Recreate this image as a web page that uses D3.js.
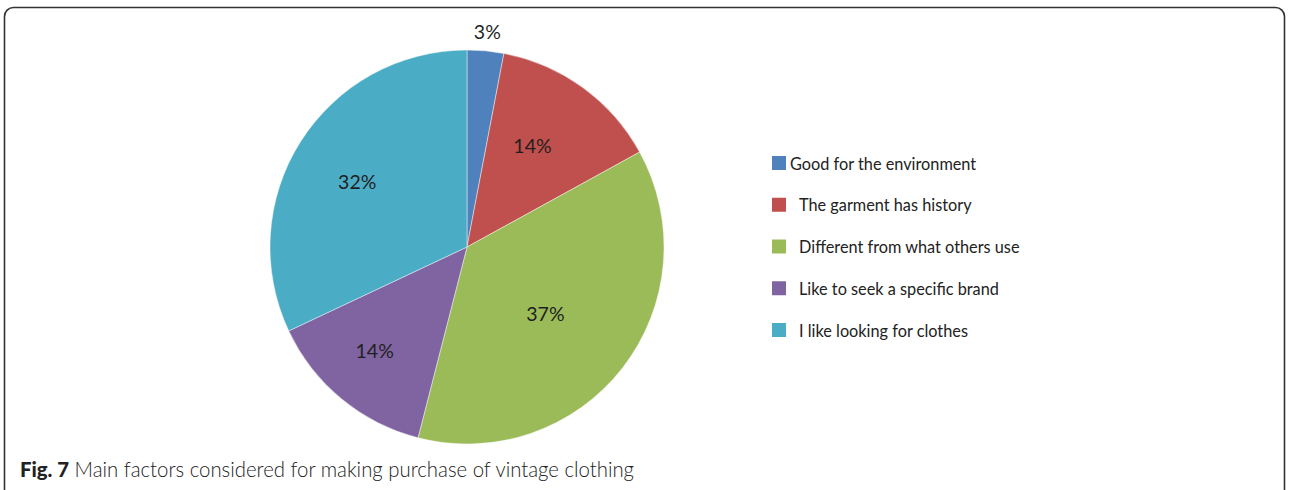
<!DOCTYPE html>
<html>
<head>
<meta charset="utf-8">
<script src="https://cdn.jsdelivr.net/npm/d3@7"></script>
<style>
  html, body { margin: 0; padding: 0; background: #fff; }
  svg { display: block; }
</style>
</head>
<body>
<svg id="chart" width="1290" height="490"></svg>
<script>
// Survey answers: main factors for buying vintage clothing (percent of respondents)
const categories = [
  "Good for the environment",
  "The garment has history",
  "Different from what others use",
  "Like to seek a specific brand",
  "I like looking for clothes"
];
const values = [3, 14, 37, 14, 32];
const valueLabels = ["3%", "14%", "37%", "14%", "32%"];
const colors = ["#4F81BD", "#C0504D", "#9BBB59", "#8064A2", "#4BACC6"];

// Best-fit label offsets from each slice's centroid (the first label sits outside)
const labelNudge = [[0, 0], [-4, -6], [-15, -6], [-17, 12], [-10, -2]];

const svg = d3.select("#chart");

// Figure frame, open at the bottom
svg.append("rect")
  .attr("x", 4.5).attr("y", 7.5)
  .attr("width", 1280).attr("height", 520)
  .attr("rx", 9).attr("ry", 9)
  .attr("fill", "none")
  .attr("stroke", "#333")
  .attr("stroke-width", 1.6);

const cx = 467, cy = 247, r = 197;

const pie = d3.pie().sort(null).value(d => d);
const arcs = pie(values);
const arc = d3.arc().innerRadius(0).outerRadius(r);
const labelArc = d3.arc().innerRadius(r * 0.6).outerRadius(r * 0.6);
const outerArc = d3.arc().innerRadius(r + 19).outerRadius(r + 19);

const g = svg.append("g").attr("transform", `translate(${cx},${cy})`);

g.selectAll("path.slice")
  .data(arcs)
  .join("path")
  .attr("class", "slice")
  .attr("d", arc)
  .attr("fill", (d, i) => colors[i])
  .attr("stroke", "rgba(255,255,255,0.55)")
  .attr("stroke-width", 0.8);

g.selectAll("text.val")
  .data(arcs)
  .join("text")
  .attr("class", "val")
  .attr("transform", (d, i) => {
    const c = (i === 0 ? outerArc : labelArc).centroid(d);
    return `translate(${c[0] + labelNudge[i][0]},${c[1] + labelNudge[i][1]})`;
  })
  .attr("text-anchor", "middle")
  .attr("dominant-baseline", "central")
  .attr("font-family", "Lato, 'Open Sans', sans-serif")
  .attr("font-size", 19.5)
  .attr("fill", "#1f1f1f")
  .text((d, i) => valueLabels[i]);

// Legend
const legendRow = d3.scaleLinear().domain([0, categories.length - 1]).range([163, 330]);
const legend = svg.append("g");
const items = legend.selectAll("g.item")
  .data(categories)
  .join("g")
  .attr("class", "item")
  .attr("transform", (d, i) => `translate(772,${legendRow(i)})`);

items.append("rect")
  .attr("x", 0).attr("y", -7)
  .attr("width", 14).attr("height", 14)
  .attr("fill", (d, i) => colors[i]);

items.append("text")
  .attr("x", (d, i) => i === 0 ? 18 : 27)
  .attr("y", 0)
  .attr("dominant-baseline", "central")
  .attr("font-family", "Lato, 'Open Sans', sans-serif")
  .attr("font-size", 16.3)
  .attr("fill", "#222")
  .text(d => d);

// Caption
const cap = svg.append("text")
  .attr("x", 20).attr("y", 477)
  .attr("font-family", "Lato, 'Open Sans', sans-serif")
  .attr("font-size", 21)
  .attr("fill", "#222")
  .attr("textLength", 614)
  .attr("lengthAdjust", "spacingAndGlyphs");
cap.append("tspan").attr("font-weight", "900").text("Fig. 7");
cap.append("tspan").attr("font-weight", "300").text(" Main factors considered for making purchase of vintage clothing");
</script>
</body>
</html>
